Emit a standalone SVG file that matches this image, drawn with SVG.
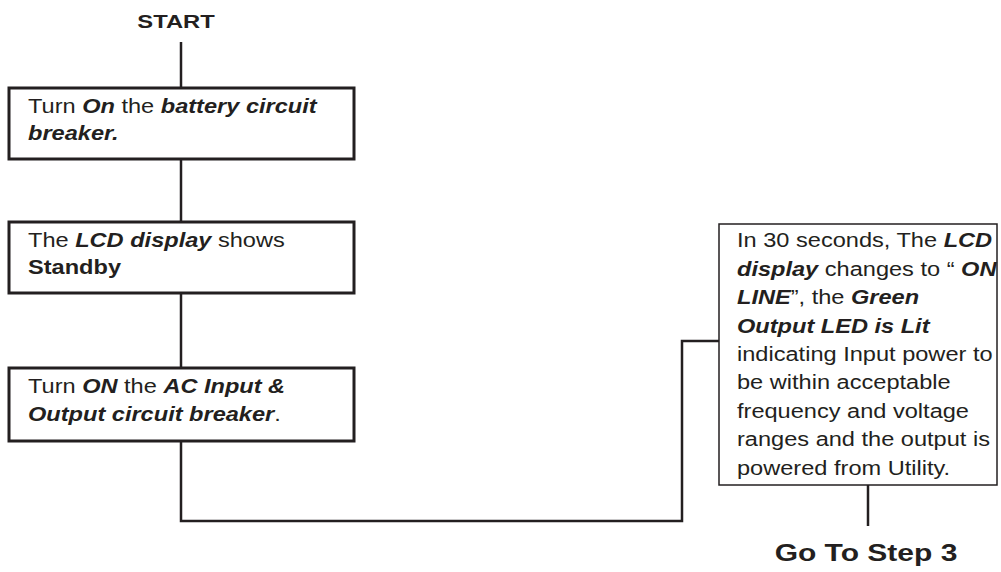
<svg xmlns="http://www.w3.org/2000/svg" width="1001" height="572" viewBox="0 0 1001 572">
<style>
text{font-family:"Liberation Sans",Arial,sans-serif;font-size:19.5px;fill:#231f20}
.b{font-weight:bold}
.bi{font-weight:bold;font-style:italic}
.box{fill:#fff;stroke:#231f20;stroke-width:3}
.box4{fill:#fff;stroke:#231f20;stroke-width:1.5}
.c{fill:none;stroke:#231f20;stroke-width:2.5}
</style>
<rect width="1001" height="572" fill="#fff"/>
<g id="connectors">
<line class="c" x1="181" y1="42" x2="181" y2="88"/>
<line class="c" x1="181" y1="159" x2="181" y2="222"/>
<line class="c" x1="181" y1="293" x2="181" y2="368"/>
<polyline class="c" points="181,441 181,521 682,521 682,341 719,341"/>
<line class="c" x1="868" y1="485" x2="868" y2="526"/>
</g>
<g id="start" transform="translate(176,0) scale(1.25,1)"><text x="0" y="28" text-anchor="middle" class="b" style="font-size:19px">START</text></g>
<g id="n1">
<rect class="box" x="9" y="88" width="345" height="71"/>
<g transform="translate(28,0) scale(1.21,1)">
<text x="0" y="113">Turn <tspan class="bi">On</tspan> the <tspan class="bi">battery circuit</tspan></text>
<text x="0" y="140" class="bi">breaker.</text>
</g>
</g>
<g id="n2">
<rect class="box" x="9" y="222" width="345" height="71"/>
<g transform="translate(28,0) scale(1.21,1)">
<text x="0" y="247">The <tspan class="bi">LCD display</tspan> shows</text>
<text x="0" y="274" class="b">Standby</text>
</g>
</g>
<g id="n3">
<rect class="box" x="9" y="368" width="345" height="73"/>
<g transform="translate(28,0) scale(1.21,1)">
<text x="0" y="393">Turn <tspan class="bi">ON</tspan> the <tspan class="bi">AC Input &amp;</tspan></text>
<text x="0" y="421"><tspan class="bi">Output circuit breaker</tspan>.</text>
</g>
</g>
<g id="n4">
<rect class="box4" x="719" y="224" width="278" height="261"/>
<g transform="translate(737,0) scale(1.21,1)">
<text x="0" y="247">In 30 seconds, The <tspan class="bi">LCD</tspan></text>
<text x="0" y="276"><tspan class="bi">display</tspan> changes to “ <tspan class="bi">ON</tspan></text>
<text x="0" y="304"><tspan class="bi">LINE</tspan>”, the <tspan class="bi">Green</tspan></text>
<text x="0" y="333" class="bi">Output LED is Lit</text>
<text x="0" y="361">indicating Input power to</text>
<text x="0" y="389">be within acceptable</text>
<text x="0" y="418">frequency and voltage</text>
<text x="0" y="446">ranges and the output is</text>
<text x="0" y="475">powered from Utility.</text>
</g>
</g>
<g id="end" transform="translate(866,0) scale(1.25,1)"><text x="0" y="561" text-anchor="middle" class="b" style="font-size:24px">Go To Step 3</text></g>
</svg>
